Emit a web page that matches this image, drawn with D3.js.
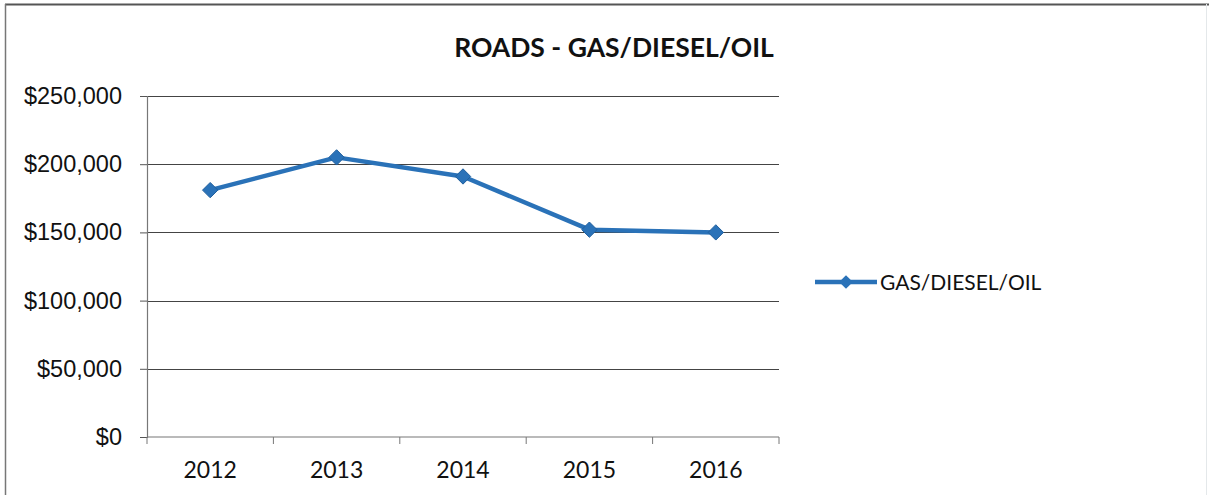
<!DOCTYPE html>
<html>
<head>
<meta charset="utf-8">
<script src="https://cdn.jsdelivr.net/npm/d3@7"></script>
<style>
  body { margin: 0; background: #fff; }
  svg { font-family: Lato, "Open Sans", sans-serif; }
</style>
</head>
<body>
<svg width="1209" height="495"></svg>
<script>
let years = ["2012", "2013", "2014", "2015", "2016"];
let costs = [181000, 205000, 191000, 152000, 150000];
let yTicks = [0, 50000, 100000, 150000, 200000, 250000];
let seriesName = "GAS/DIESEL/OIL";

let svg = d3.select("svg");
let width = parseInt(svg.attr("width"));
let height = parseInt(svg.attr("height"));

// chart frame
svg.append("line").attr("x1", 5).attr("x2", width).attr("y1", 4.5).attr("y2", 4.5)
    .attr("stroke", "#555").attr("stroke-width", 2);
svg.append("line").attr("x1", 5.5).attr("x2", 5.5).attr("y1", 4).attr("y2", height)
    .attr("stroke", "#777").attr("stroke-width", 1.5);
svg.append("line").attr("x1", 1206.5).attr("x2", 1206.5).attr("y1", 4).attr("y2", height)
    .attr("stroke", "#e4e8ea").attr("stroke-width", 1);

let plotLeft = 147, plotRight = 779, plotTop = 96, plotBottom = 437;

let x = d3.scaleBand()
    .domain(years)
    .range([plotLeft, plotRight]);

let y = d3.scaleLinear()
    .domain([0, 250000])
    .range([plotBottom, plotTop]);

// title
svg.append("text")
    .attr("x", 614).attr("y", 57)
    .attr("text-anchor", "middle")
    .style("font-size", "26.5px")
    .style("font-weight", "bold")
    .attr("fill", "#111")
    .text("ROADS - GAS/DIESEL/OIL");

// gridlines
svg.append("g").selectAll("line")
    .data(yTicks.filter(d => d > 0))
    .enter()
    .append("line")
    .attr("x1", plotLeft).attr("x2", plotRight)
    .attr("y1", d => Math.round(y(d)) + 0.5)
    .attr("y2", d => Math.round(y(d)) + 0.5)
    .attr("stroke", "#444")
    .attr("stroke-width", 1.2);

// y axis
let yAxis = svg.append("g")
    .attr("transform", "translate(" + plotLeft + ",0)")
    .call(d3.axisLeft(y).tickValues(yTicks).tickSize(7).tickPadding(18)
        .tickFormat(d => "$" + d3.format(",")(d)));
yAxis.select(".domain").attr("stroke", "#777").attr("stroke-width", 1.2);
yAxis.selectAll(".tick line").attr("stroke", "#555");
yAxis.selectAll("text").style("font-size", "23.5px").attr("fill", "#111");

// x axis
let xAxis = svg.append("g")
    .attr("transform", "translate(0," + plotBottom + ")");
xAxis.append("line")
    .attr("x1", plotLeft).attr("x2", plotRight)
    .attr("stroke", "#777").attr("stroke-width", 1.2);
xAxis.selectAll(".xtick")
    .data(d3.range(years.length + 1))
    .enter()
    .append("line")
    .attr("x1", i => plotLeft + i * x.step())
    .attr("x2", i => plotLeft + i * x.step())
    .attr("y1", 0).attr("y2", 7)
    .attr("stroke", "#777");
xAxis.selectAll("text")
    .data(years)
    .enter()
    .append("text")
    .attr("x", d => x(d) + x.bandwidth() / 2)
    .attr("y", 41)
    .attr("text-anchor", "middle")
    .style("font-size", "23px")
    .attr("fill", "#111")
    .text(d => d);

// series
let blue = "#2a72b8";
let pts = years.map((d, i) => [x(d) + x.bandwidth() / 2, y(costs[i])]);

svg.append("path")
    .attr("d", d3.line()(pts))
    .attr("fill", "none")
    .attr("stroke", blue)
    .attr("stroke-width", 4.5)
    .attr("stroke-linejoin", "round");

let diamond = d3.symbol().type(d3.symbolDiamond2).size(150);
svg.append("g").selectAll("path")
    .data(pts)
    .enter()
    .append("path")
    .attr("d", diamond)
    .attr("transform", d => "translate(" + d[0] + "," + d[1] + ")")
    .attr("fill", blue)
    .attr("stroke", "#1f5f9e")
    .attr("stroke-width", 1);

// legend
let legend = svg.append("g").attr("transform", "translate(815,282)");
legend.append("line")
    .attr("x1", 0).attr("x2", 62)
    .attr("stroke", blue).attr("stroke-width", 4.5);
legend.append("path")
    .attr("d", d3.symbol().type(d3.symbolDiamond2).size(120))
    .attr("transform", "translate(31,0)")
    .attr("fill", blue);
legend.append("text")
    .attr("x", 65).attr("y", 7.5)
    .style("font-size", "21px")
    .attr("fill", "#111")
    .text(seriesName);
</script>
</body>
</html>
